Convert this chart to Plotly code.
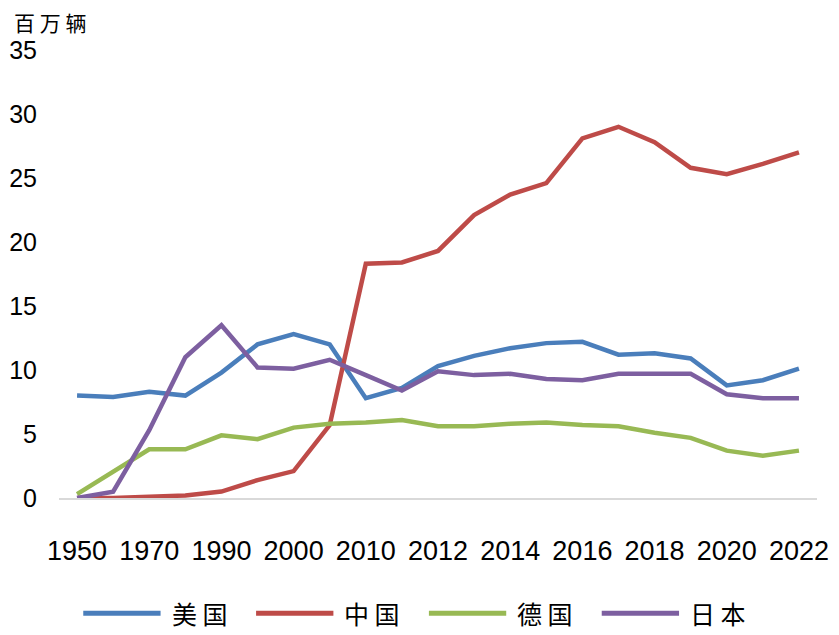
import plotly.graph_objects as go

years = ["1950", "1960", "1970", "1980", "1990", "1995", "2000", "2005", "2010", "2011",
         "2012", "2013", "2014", "2015", "2016", "2017", "2018", "2019", "2020", "2021", "2022"]
tick_labels = ["1950", "1970", "1990", "2000", "2010", "2012", "2014", "2016", "2018", "2020", "2022"]

usa = [8.0, 7.9, 8.3, 8.0, 9.8, 12.0, 12.8, 12.0, 7.8, 8.6, 10.3, 11.1, 11.7, 12.1, 12.2, 11.2, 11.3, 10.9, 8.8, 9.2, 10.1]
china = [0.0, 0.0, 0.1, 0.2, 0.5, 1.4, 2.1, 5.7, 18.3, 18.4, 19.3, 22.1, 23.7, 24.6, 28.1, 29.0, 27.8, 25.8, 25.3, 26.1, 27.0]
germany = [0.3, 2.1, 3.8, 3.8, 4.9, 4.6, 5.5, 5.8, 5.9, 6.1, 5.6, 5.6, 5.8, 5.9, 5.7, 5.6, 5.1, 4.7, 3.7, 3.3, 3.7]
japan = [0.0, 0.5, 5.3, 11.0, 13.5, 10.2, 10.1, 10.8, 9.6, 8.4, 9.9, 9.6, 9.7, 9.3, 9.2, 9.7, 9.7, 9.7, 8.1, 7.8, 7.8]

names = ["美国", "中国", "德国", "日本"]
colors = ["#4a7ebb", "#be4b48", "#98b954", "#7d5fa0"]
values = [usa, china, germany, japan]

CJK = "Noto Sans CJK SC"
NUM = "Liberation Sans, Arial, sans-serif"

fig = go.Figure()
for name, vals, col in zip(names, values, colors):
    fig.add_trace(go.Scatter(x=years, y=vals, name=name, mode="lines",
                             line=dict(color=col, width=4.5)))

# custom legend (long line samples, like the original)
shapes = []
annotations = []
leg_y = -0.257
start, step, seg = 0.032, 0.228, 0.102
for i, (name, col) in enumerate(zip(names, colors)):
    x0 = start + i * step
    shapes.append(dict(type="line", xref="paper", yref="paper", x0=x0, x1=x0 + seg,
                       y0=leg_y, y1=leg_y, line=dict(color=col, width=5)))
    annotations.append(dict(text=" ".join(name), xref="paper", yref="paper", x=x0 + seg + 0.012,
                            y=leg_y, xanchor="left", yanchor="middle", showarrow=False,
                            height=40,
                            font=dict(family=CJK, size=25, color="black")))

annotations.append(dict(text="百 万 辆", xref="paper", yref="paper", x=-0.061, y=1.093,
                        xanchor="left", yanchor="top", showarrow=False, borderpad=0,
                        height=25, valign="middle",
                        font=dict(family=CJK, size=21, color="black")))

fig.update_layout(
    width=831, height=627,
    margin=dict(l=51, r=22, t=42, b=137, autoexpand=False),
    plot_bgcolor="white", paper_bgcolor="white",
    font=dict(family=NUM, size=22, color="black"),
    showlegend=False,
    shapes=shapes,
    annotations=annotations,
)
fig.update_xaxes(type="category", categoryorder="array", categoryarray=years,
                 range=[-0.5, len(years) - 0.5],
                 tickmode="array", tickvals=tick_labels, ticktext=tick_labels,
                 showline=True, linecolor="#d9d9d9", linewidth=2,
                 showgrid=False, ticks="", ticklabelstandoff=28,
                 tickfont=dict(family=NUM, size=27))
fig.update_yaxes(range=[0, 35], dtick=5, showgrid=False, zeroline=False,
                 showline=False, ticks="", ticklabelstandoff=21,
                 tickfont=dict(family=NUM, size=25))

fig.write_html("out.html")
